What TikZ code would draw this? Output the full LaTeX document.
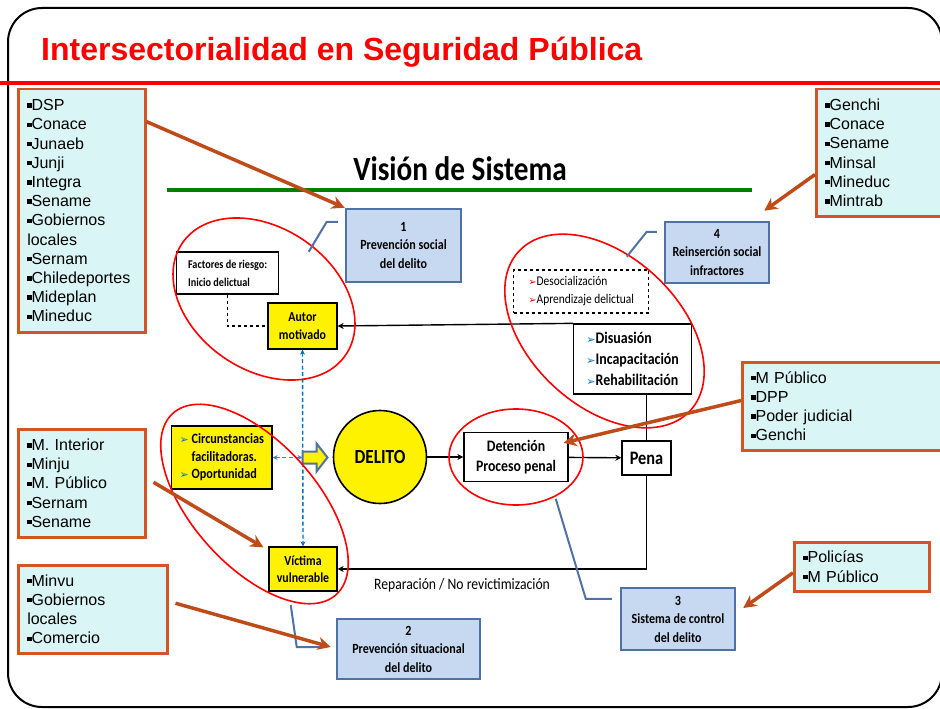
\documentclass[tikz,border=0pt]{standalone}
\usepackage{fontspec}
\setmainfont{Liberation Sans}
\newfontfamily\calibri{Carlito}[FakeStretch=0.86]
\newfontfamily\dejavu{DejaVu Sans}
\usepackage{tikz}
\usetikzlibrary{arrows.meta,positioning,calc,shapes.geometric}
\definecolor{listfill}{RGB}{218,245,245}
\definecolor{listdraw}{RGB}{210,85,35}
\definecolor{arrbrown}{RGB}{190,75,25}
\definecolor{boxfill}{RGB}{198,217,240}
\definecolor{boxdraw}{RGB}{79,113,166}
\definecolor{dashblue}{RGB}{0,112,192}
\definecolor{softblue}{RGB}{79,129,189}
\definecolor{darkgreen}{RGB}{0,128,0}
\newcommand{\sqb}{\rule[0.18em]{0.27em}{0.27em}}
\newcommand{\bluebul}{{\dejavu\fontsize{11}{11}\selectfont\color{dashblue}➢}}
\newcommand{\redbul}{{\dejavu\fontsize{10}{10}\selectfont\color{red}➢}}

\begin{document}
\begin{tikzpicture}[x=1pt, y=-1pt,
  lst/.style={draw=listdraw, fill=listfill, line width=2.5pt, anchor=north west,
    align=left, inner xsep=9pt, font=\fontsize{16}{19.2}\selectfont},
  sbox/.style={draw=boxdraw, fill=boxfill, line width=2.5pt, align=center, inner sep=0pt,
    font=\calibri\bfseries\fontsize{14}{18.5}\selectfont},
  dbox/.style={draw, line width=1.3pt, align=center, inner sep=0pt,
    font=\calibri\bfseries\fontsize{13.8}{17.5}\selectfont},
  ybox/.style={dbox, fill=yellow},
  ring/.style={draw=red, line width=1.6pt, ellipse, inner sep=0pt},
  harr/.style={draw=arrbrown, line width=3.5pt, -{Stealth[length=13pt,width=13pt]}},
  callout/.style={draw=boxdraw, line width=2pt},
  link/.style={line width=1.4pt, -{Stealth[length=6pt,width=6pt]}},
  bdash/.style={draw=dashblue, line width=1.4pt, dash pattern=on 4pt off 2.5pt,
    {Stealth[length=5pt,width=5pt]}-{Stealth[length=5pt,width=5pt]}}]
  \useasboundingbox (0,0) rectangle (940,709);
  % frame and titles
  \draw[line width=2pt, rounded corners=34pt] (8,8) rectangle (942,707);
  \node[anchor=base west, text=red, font=\bfseries\fontsize{32}{36}\selectfont, inner sep=0pt]
    (title) at (41,61) {Intersectorialidad en Seguridad Pública};
  \draw[red, line width=3.5pt] (0,83) -- (940,83);
  \node[anchor=base, font=\calibri\bfseries\fontsize{34}{36}\selectfont, inner sep=0pt]
    (vision) at (460,180) {Visión de Sistema};
  \draw[darkgreen, line width=4pt] (167,190) -- (752,190);

  % lists of institutions
  \node[lst, text width=109pt, minimum height=243pt] (l1) at (17,88)
    {\sqb DSP\\\sqb Conace\\\sqb Junaeb\\\sqb Junji\\\sqb Integra\\\sqb Sename\\\sqb Gobiernos\\locales\\\sqb Sernam\\\sqb Chiledeportes\\\sqb Mideplan\\\sqb Mineduc};
  \node[lst, text width=109pt, minimum height=108pt] (l2) at (17,428)
    {\sqb M. Interior\\\sqb Minju\\\sqb M. Público\\\sqb Sernam\\\sqb Sename};
  \node[lst, text width=131pt, minimum height=88pt] (l3) at (17,564)
    {\sqb Minvu\\\sqb Gobiernos\\locales\\\sqb Comercio};
  \node[lst, text width=122pt, minimum height=127pt] (r1) at (815,88)
    {\sqb Genchi\\\sqb Conace\\\sqb Sename\\\sqb Minsal\\\sqb Mineduc\\\sqb Mintrab};
  \node[lst, text width=196pt, minimum height=88pt] (r2) at (741,361)
    {\sqb M Público\\\sqb DPP\\\sqb Poder judicial\\\sqb Genchi};
  \node[lst, text width=117pt, minimum height=49pt] (r3) at (793,541)
    {\sqb Policías\\\sqb M Público};

  % the four systems
  \node[sbox, minimum width=115pt, minimum height=73pt] (b1) at (403.5,245.5)
    {1\\Prevención social\\del delito};
  \node[sbox, minimum width=104pt, minimum height=61pt] (b4) at (717,252.5)
    {4\\Reinserción social\\infractores};
  \node[sbox, minimum width=114pt, minimum height=62pt] (b3) at (678,619)
    {3\\Sistema de control\\del delito};
  \node[sbox, minimum width=143pt, minimum height=60pt] (b2) at (408.5,649)
    {2\\Prevención situacional\\del delito};

  % crime cycle
  \node[dbox, align=left, anchor=west, inner xsep=6pt, minimum width=102pt, minimum height=42pt,
    font=\calibri\bfseries\fontsize{11.9}{18}\selectfont] (fact) at (176,273)
    {Factores de riesgo:\\Inicio delictual};
  \node[ybox, minimum width=69pt, minimum height=46pt] (autor) at (302.5,326) {Autor\\motivado};
  \node[ybox, align=left, anchor=west, inner xsep=8pt, minimum width=98pt, minimum height=63pt,
    font=\calibri\bfseries\fontsize{14.2}{17.5}\selectfont] (circ) at (171,457.5)
    {\bluebul\ Circunstancias\\\hphantom{\bluebul\ }facilitadoras.\\\bluebul\ Oportunidad};
  \node[ybox, minimum width=68pt, minimum height=44pt] (victima) at (303,569) {Víctima\\vulnerable};
  \node[circle, draw, fill=yellow, line width=1.6pt, minimum size=93pt, inner sep=0pt,
    font=\calibri\bfseries\fontsize{20}{22}\selectfont] (delito) at (380,457) {DELITO};
  \node[dbox, fill=white, minimum width=104pt, minimum height=49pt,
    font=\calibri\bfseries\fontsize{16}{20}\selectfont] (deten) at (516,457) {Detención\\Proceso penal};
  \node[dbox, fill=white, minimum width=49pt, minimum height=34pt,
    font=\calibri\bfseries\fontsize{19}{20}\selectfont] (pena) at (646.5,458) {Pena};
  \node[dbox, fill=white, align=left, anchor=west, inner xsep=6pt, minimum width=118pt, minimum height=70pt,
    font=\calibri\bfseries\fontsize{16.2}{21}\selectfont] (disu) at (573,359)
    {\bluebul Disuasión\\\bluebul Incapacitación\\\bluebul Rehabilitación};
  \node[dbox, dashed, align=left, anchor=west, inner xsep=6pt, minimum width=135pt, minimum height=43pt,
    font=\calibri\fontsize{13.3}{18}\selectfont] (deso) at (513,291.5)
    {\redbul Desocialización\\\redbul Aprendizaje delictual};

  \draw[line width=1.4pt, dashed] (fact.south) |- (autor.west);
  \draw[link] (delito) -- (deten);
  \draw[link] (deten) -- (pena);
  \draw[line width=1.4pt] (pena.north) -- (pena.north |- disu.south);
  \draw[link] (disu.north west) -- (autor.east);
  \draw[link] (pena.south) |- (victima.east);
  \node[font=\calibri\fontsize{15.9}{18}\selectfont] (repar) at (462,585)
    {Reparación / No revictimización};
  \draw[bdash] (autor.south) -- (victima.north);
  \coordinate (vx) at (autor.south |- circ.east);
  \draw[bdash, draw=softblue, line width=1.8pt] (circ.east) -- (vx);
  \draw[fill=yellow, draw=boxdraw, line width=2pt]
    ([shift={(0,-6)}]vx) -- ++(14,0) -- ++(0,-8) -- ++(11,14) -- ++(-11,14)
    -- ++(0,-8) -- ++(-14,0) -- cycle;

  % red rings
  \node[ring, minimum width=198pt, minimum height=142pt, rotate=-34.5] (e1) at (264,299) {};
  \node[ring, minimum width=244pt, minimum height=124pt, rotate=-48] (e2) at (254.5,504) {};
  \node[ring, minimum width=234pt, minimum height=150pt, rotate=-43] (e3) at (604.5,331) {};
  \node[ring, minimum width=134pt, minimum height=96pt] (e4) at (516,457) {};

  % callouts of the systems
  \draw[callout] ($(b1.north west)+(-7,14)$) -- ++(-11,0) -- ++(-18,30);
  \draw[callout] ($(b4.north west)+(-7,11)$) -- ++(-10,0) -- ++(-20,25);
  \draw[callout] ($(b3.north west)+(-8,12)$) -- ++(-26,0) -- ++(-30,-100);
  \draw[callout] ($(b2.west)+(-15,-2)$) -- ++(-24,0) -- ++(-6,-42);

  % institutions to systems
  \draw[harr] (l1.54) -- (b1.north west);
  \draw[harr] (r1.197) -- ($(b4.north east)+(-6,-10)$);
  \draw[harr] (r2.177) -- ($(deten.north east)+(-5,11)$);
  \draw[harr] ($(l2.east)+(7,-1)$) -- ($(victima.north west)+(-5,1)$);
  \draw[harr] ($(l3.east)+(7,-6)$) -- ($(b2.west)+(-5,-2)$);
  \draw[harr] ($(r3.west)+(0,6)$) -- ($(b3.east)+(7,-11)$);
\end{tikzpicture}
\end{document}
